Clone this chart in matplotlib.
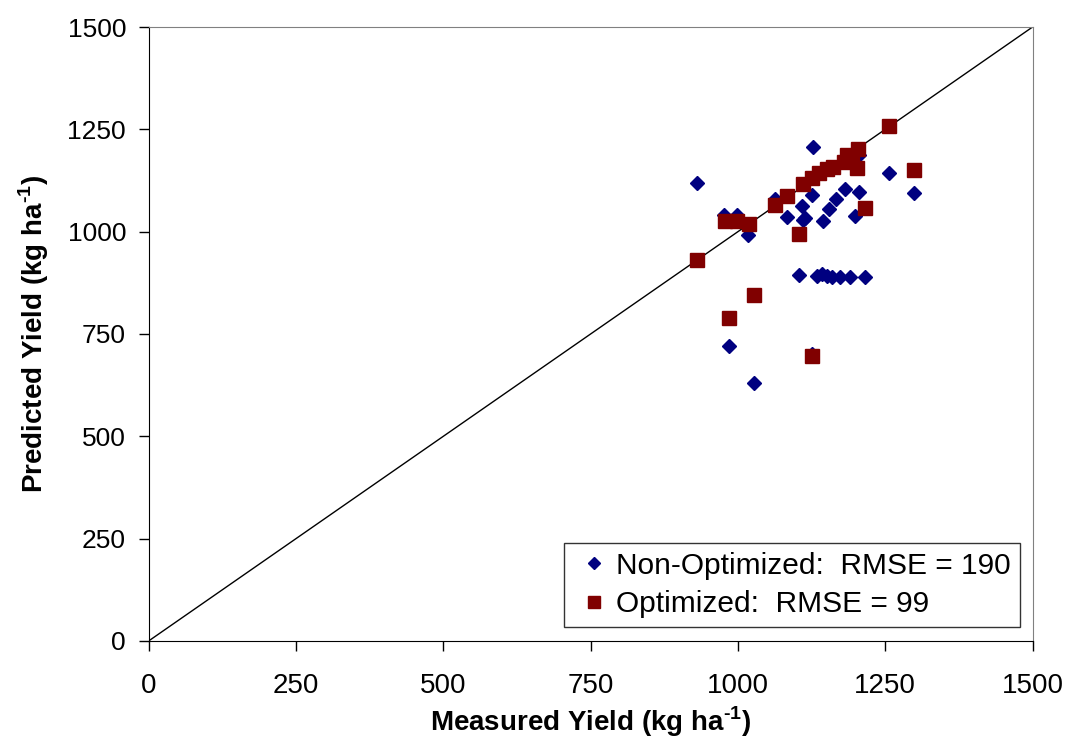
import matplotlib
matplotlib.use("Agg")
import matplotlib.pyplot as plt

plt.rcParams['font.family'] = ['Liberation Sans', 'DejaVu Sans']
plt.rcParams['mathtext.fontset'] = 'custom'
plt.rcParams['mathtext.rm'] = 'Liberation Sans'
plt.rcParams['mathtext.bf'] = 'Liberation Sans:bold'

# Non-optimized (blue diamonds)
non_x = [931, 1128, 1257, 1299, 1182, 1205, 1166, 1155, 1125, 1108, 1114, 1110, 1083, 1145,
         1199, 1063, 977, 999, 1017, 985, 1027, 1103, 1135, 1143, 1151, 1160, 1173, 1190, 1216,
         1125, 1205]
non_y = [1120, 1206, 1144, 1094, 1104, 1096, 1080, 1055, 1090, 1063, 1033, 1028, 1037, 1027,
         1038, 1081, 1041, 1041, 992, 721, 630, 894, 892, 897, 892, 890, 890, 890, 890,
         700, 1187]

# Optimized (red squares)
opt_x = [931, 1257, 1299, 1216, 1103, 1027, 985, 1126, 978, 998, 1018, 1063, 1083,
         1111, 1125, 1137, 1151, 1162, 1180, 1185, 1203, 1202, 1193]
opt_y = [931, 1259, 1150, 1057, 994, 845, 789, 697, 1027, 1027, 1018, 1064, 1086,
         1117, 1130, 1143, 1152, 1159, 1171, 1187, 1203, 1155, 1172]

ticks = [0, 250, 500, 750, 1000, 1250, 1500]

fig = plt.figure(figsize=(10.7, 7.4), dpi=100)
ax = fig.add_axes([0.1389, 0.1338, 0.8261, 0.8297])

ax.plot([0, 1500], [0, 1500], color='black', lw=1.0, zorder=1)
ax.plot(non_x, non_y, linestyle='none', marker='D', color='#000080', markersize=7.5,
        label='Non-Optimized:  RMSE = 190', zorder=3)
ax.plot(opt_x, opt_y, linestyle='none', marker='s', color='#800000', markersize=10,
        label='Optimized:  RMSE = 99', zorder=4)

ax.set_xlim(0, 1500)
ax.set_ylim(0, 1500)
ax.set_xticks(ticks)
ax.set_yticks(ticks)
ax.tick_params(axis='x', labelsize=20, length=7.2, direction='out', width=1, pad=15.5)
ax.tick_params(axis='y', labelsize=19, length=7.2, direction='out', width=1, pad=9)
for s in ['left', 'bottom']:
    ax.spines[s].set_color('black')
for s in ['top', 'right']:
    ax.spines[s].set_color('#808080')

ax.set_xlabel('Measured Yield (kg ha$^{\\mathbf{\u20101}}$)', fontsize=20, fontweight='bold', labelpad=4)
ax.set_ylabel('Predicted Yield (kg ha$^{\\mathbf{\u20101}}$)', fontsize=20, fontweight='bold', labelpad=12)

leg = ax.legend(loc='lower right', fontsize=21.5, frameon=True, fancybox=False,
                edgecolor='black', handlelength=1.4, handletextpad=0.05,
                borderpad=0.3, labelspacing=0.35, borderaxespad=0,
                bbox_to_anchor=(0.9857, 0.0223), markerscale=0.8)
leg.get_frame().set_linewidth(1.0)

fig.savefig('out.png', dpi=100)
